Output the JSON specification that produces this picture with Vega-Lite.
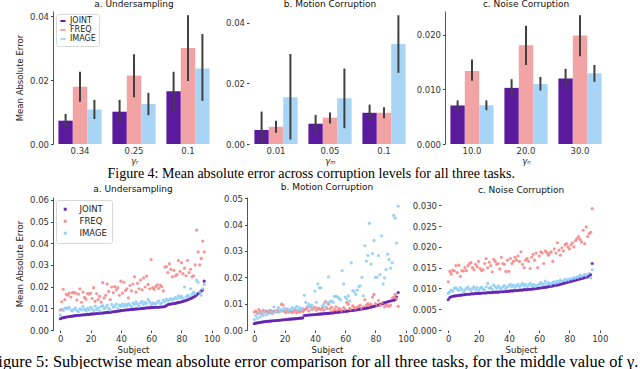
{
  "$schema": "https://vega.github.io/schema/vega-lite/v6.json",
  "padding": {"left": -11, "top": 0, "right": 0, "bottom": 0},
  "background": "white",
  "spacing": 2,
  "config": {
    "view": {"stroke": null},
    "font": "DejaVu Sans",
    "title": {"fontSize": 9, "fontWeight": "normal", "font": "DejaVu Sans", "color": "#111", "offset": 2},
    "axis": {"labelFont": "DejaVu Sans", "labelFontSize": 8.5, "labelColor": "#333", "titleFont": "DejaVu Sans", "titleFontSize": 8.5, "titleFontWeight": "normal", "titleColor": "#222", "tickColor": "#444", "tickSize": 2.5, "labelPadding": 2, "domainColor": "#555", "grid": false},
    "legend": {"labelFont": "DejaVu Sans", "labelColor": "#222"}
  },
  "resolve": {"scale": {"color": "independent"}, "legend": {"color": "independent"}},
  "datasets": {
    "bars": [
      {"t":"a","g":"0.34","m":"JOINT","v":0.0073,"lo":0.0052,"hi":0.0094},
      {"t":"a","g":"0.34","m":"FREQ","v":0.0179,"lo":0.0132,"hi":0.0226},
      {"t":"a","g":"0.34","m":"IMAGE","v":0.0108,"lo":0.0078,"hi":0.0138},
      {"t":"a","g":"0.25","m":"JOINT","v":0.0101,"lo":0.0067,"hi":0.0138},
      {"t":"a","g":"0.25","m":"FREQ","v":0.0214,"lo":0.0146,"hi":0.0281},
      {"t":"a","g":"0.25","m":"IMAGE","v":0.0125,"lo":0.009,"hi":0.016},
      {"t":"a","g":"0.1","m":"JOINT","v":0.0165,"lo":0.0101,"hi":0.0226},
      {"t":"a","g":"0.1","m":"FREQ","v":0.030,"lo":0.0197,"hi":0.0403},
      {"t":"a","g":"0.1","m":"IMAGE","v":0.0236,"lo":0.0135,"hi":0.0344},
      {"t":"b","g":"0.01","m":"JOINT","v":0.0046,"lo":0.0,"hi":0.0107},
      {"t":"b","g":"0.01","m":"FREQ","v":0.0057,"lo":0.0037,"hi":0.0077},
      {"t":"b","g":"0.01","m":"IMAGE","v":0.0154,"lo":0.0015,"hi":0.0297},
      {"t":"b","g":"0.05","m":"JOINT","v":0.0067,"lo":0.0037,"hi":0.0096},
      {"t":"b","g":"0.05","m":"FREQ","v":0.0087,"lo":0.0068,"hi":0.0104},
      {"t":"b","g":"0.05","m":"IMAGE","v":0.0151,"lo":0.0052,"hi":0.0249},
      {"t":"b","g":"0.1","m":"JOINT","v":0.0103,"lo":0.0079,"hi":0.013},
      {"t":"b","g":"0.1","m":"FREQ","v":0.0103,"lo":0.0085,"hi":0.0121},
      {"t":"b","g":"0.1","m":"IMAGE","v":0.033,"lo":0.0235,"hi":0.0425},
      {"t":"c","g":"10.0","m":"JOINT","v":0.00707,"lo":0.0061,"hi":0.008},
      {"t":"c","g":"10.0","m":"FREQ","v":0.0134,"lo":0.0116,"hi":0.0155},
      {"t":"c","g":"10.0","m":"IMAGE","v":0.0071,"lo":0.0062,"hi":0.008},
      {"t":"c","g":"20.0","m":"JOINT","v":0.0103,"lo":0.0087,"hi":0.0119},
      {"t":"c","g":"20.0","m":"FREQ","v":0.0181,"lo":0.0145,"hi":0.0217},
      {"t":"c","g":"20.0","m":"IMAGE","v":0.011,"lo":0.0098,"hi":0.0123},
      {"t":"c","g":"30.0","m":"JOINT","v":0.012,"lo":0.0102,"hi":0.0138},
      {"t":"c","g":"30.0","m":"FREQ","v":0.0199,"lo":0.0161,"hi":0.0236},
      {"t":"c","g":"30.0","m":"IMAGE","v":0.013,"lo":0.0114,"hi":0.0145}
    ],
    "sa": [
      {"s":0,"JOINT":0.0052,"FREQ":0.0092,"IMAGE":0.0070},{"s":1,"JOINT":0.0055,"FREQ":0.0130,"IMAGE":0.0095},{"s":2,"JOINT":0.0057,"FREQ":0.0188,"IMAGE":0.0090},{"s":3,"JOINT":0.0058,"FREQ":0.0140,"IMAGE":0.0100},{"s":4,"JOINT":0.0060,"FREQ":0.0165,"IMAGE":0.0102},{"s":5,"JOINT":0.0061,"FREQ":0.0160,"IMAGE":0.0098},{"s":6,"JOINT":0.0062,"FREQ":0.0170,"IMAGE":0.0105},{"s":7,"JOINT":0.0063,"FREQ":0.0152,"IMAGE":0.0092},{"s":8,"JOINT":0.0064,"FREQ":0.0172,"IMAGE":0.0088},{"s":9,"JOINT":0.0065,"FREQ":0.0172,"IMAGE":0.0095},
      {"s":10,"JOINT":0.0066,"FREQ":0.0170,"IMAGE":0.0102},{"s":11,"JOINT":0.0067,"FREQ":0.0138,"IMAGE":0.0090},{"s":12,"JOINT":0.0068,"FREQ":0.0165,"IMAGE":0.0085},{"s":13,"JOINT":0.0068,"FREQ":0.0190,"IMAGE":0.0098},{"s":14,"JOINT":0.0069,"FREQ":0.0128,"IMAGE":0.0093},{"s":15,"JOINT":0.0070,"FREQ":0.0175,"IMAGE":0.0108},{"s":16,"JOINT":0.0070,"FREQ":0.0150,"IMAGE":0.0095},{"s":17,"JOINT":0.0071,"FREQ":0.0142,"IMAGE":0.0088},{"s":18,"JOINT":0.0072,"FREQ":0.0168,"IMAGE":0.0100},{"s":19,"JOINT":0.0072,"FREQ":0.0165,"IMAGE":0.0092},
      {"s":20,"JOINT":0.0073,"FREQ":0.0170,"IMAGE":0.0105},{"s":21,"JOINT":0.0074,"FREQ":0.0145,"IMAGE":0.0098},{"s":22,"JOINT":0.0074,"FREQ":0.0195,"IMAGE":0.0090},{"s":23,"JOINT":0.0075,"FREQ":0.0132,"IMAGE":0.0110},{"s":24,"JOINT":0.0076,"FREQ":0.0168,"IMAGE":0.0095},{"s":25,"JOINT":0.0076,"FREQ":0.0140,"IMAGE":0.0102},{"s":26,"JOINT":0.0077,"FREQ":0.0155,"IMAGE":0.0088},{"s":27,"JOINT":0.0078,"FREQ":0.0128,"IMAGE":0.0108},{"s":28,"JOINT":0.0078,"FREQ":0.0218,"IMAGE":0.0112},{"s":29,"JOINT":0.0079,"FREQ":0.0148,"IMAGE":0.0098},
      {"s":30,"JOINT":0.0080,"FREQ":0.0160,"IMAGE":0.0105},{"s":31,"JOINT":0.0081,"FREQ":0.0212,"IMAGE":0.0115},{"s":32,"JOINT":0.0081,"FREQ":0.0178,"IMAGE":0.0100},{"s":33,"JOINT":0.0082,"FREQ":0.0140,"IMAGE":0.0092},{"s":34,"JOINT":0.0083,"FREQ":0.0198,"IMAGE":0.0118},{"s":35,"JOINT":0.0084,"FREQ":0.0172,"IMAGE":0.0105},{"s":36,"JOINT":0.0085,"FREQ":0.0200,"IMAGE":0.0110},{"s":37,"JOINT":0.0086,"FREQ":0.0185,"IMAGE":0.0120},{"s":38,"JOINT":0.0087,"FREQ":0.0195,"IMAGE":0.0100},{"s":39,"JOINT":0.0088,"FREQ":0.0160,"IMAGE":0.0115},
      {"s":40,"JOINT":0.0089,"FREQ":0.0225,"IMAGE":0.0110},{"s":41,"JOINT":0.0090,"FREQ":0.0170,"IMAGE":0.0120},{"s":42,"JOINT":0.0091,"FREQ":0.0220,"IMAGE":0.0108},{"s":43,"JOINT":0.0092,"FREQ":0.0182,"IMAGE":0.0118},{"s":44,"JOINT":0.0093,"FREQ":0.0190,"IMAGE":0.0112},{"s":45,"JOINT":0.0093,"FREQ":0.0148,"IMAGE":0.0122},{"s":46,"JOINT":0.0094,"FREQ":0.0205,"IMAGE":0.0115},{"s":47,"JOINT":0.0095,"FREQ":0.0180,"IMAGE":0.0108},{"s":48,"JOINT":0.0095,"FREQ":0.0212,"IMAGE":0.0125},{"s":49,"JOINT":0.0096,"FREQ":0.0245,"IMAGE":0.0118},
      {"s":50,"JOINT":0.0097,"FREQ":0.0175,"IMAGE":0.0130},{"s":51,"JOINT":0.0097,"FREQ":0.0215,"IMAGE":0.0120},{"s":52,"JOINT":0.0098,"FREQ":0.0190,"IMAGE":0.0110},{"s":53,"JOINT":0.0099,"FREQ":0.0230,"IMAGE":0.0125},{"s":54,"JOINT":0.0100,"FREQ":0.0185,"IMAGE":0.0132},{"s":55,"JOINT":0.0100,"FREQ":0.0240,"IMAGE":0.0118},{"s":56,"JOINT":0.0101,"FREQ":0.0198,"IMAGE":0.0128},{"s":57,"JOINT":0.0102,"FREQ":0.0248,"IMAGE":0.0122},{"s":58,"JOINT":0.0102,"FREQ":0.0210,"IMAGE":0.0140},{"s":59,"JOINT":0.0103,"FREQ":0.0190,"IMAGE":0.0130},
      {"s":60,"JOINT":0.0103,"FREQ":0.0325,"IMAGE":0.0118},{"s":61,"JOINT":0.0104,"FREQ":0.0195,"IMAGE":0.0125},{"s":62,"JOINT":0.0104,"FREQ":0.0188,"IMAGE":0.0122},{"s":63,"JOINT":0.0105,"FREQ":0.0200,"IMAGE":0.0120},{"s":64,"JOINT":0.0105,"FREQ":0.0208,"IMAGE":0.0128},{"s":65,"JOINT":0.0105,"FREQ":0.0192,"IMAGE":0.0135},{"s":66,"JOINT":0.0106,"FREQ":0.0206,"IMAGE":0.0122},{"s":67,"JOINT":0.0106,"FREQ":0.0200,"IMAGE":0.0125},{"s":68,"JOINT":0.0107,"FREQ":0.0180,"IMAGE":0.0138},{"s":69,"JOINT":0.0108,"FREQ":0.0290,"IMAGE":0.0130},
      {"s":70,"JOINT":0.0112,"FREQ":0.0292,"IMAGE":0.0142},{"s":71,"JOINT":0.0117,"FREQ":0.0265,"IMAGE":0.0135},{"s":72,"JOINT":0.0119,"FREQ":0.0305,"IMAGE":0.0140},{"s":73,"JOINT":0.0120,"FREQ":0.0280,"IMAGE":0.0145},{"s":74,"JOINT":0.0121,"FREQ":0.0245,"IMAGE":0.0138},{"s":75,"JOINT":0.0122,"FREQ":0.0275,"IMAGE":0.0142},{"s":76,"JOINT":0.0123,"FREQ":0.0250,"IMAGE":0.0150},{"s":77,"JOINT":0.0125,"FREQ":0.0255,"IMAGE":0.0145},{"s":78,"JOINT":0.0127,"FREQ":0.0320,"IMAGE":0.0158},{"s":79,"JOINT":0.0128,"FREQ":0.0270,"IMAGE":0.0148},
      {"s":80,"JOINT":0.0130,"FREQ":0.0310,"IMAGE":0.0155},{"s":81,"JOINT":0.0132,"FREQ":0.0260,"IMAGE":0.0145},{"s":82,"JOINT":0.0134,"FREQ":0.0285,"IMAGE":0.0198},{"s":83,"JOINT":0.0136,"FREQ":0.0250,"IMAGE":0.0152},{"s":84,"JOINT":0.0139,"FREQ":0.0320,"IMAGE":0.0160},{"s":85,"JOINT":0.0142,"FREQ":0.0265,"IMAGE":0.0155},{"s":86,"JOINT":0.0145,"FREQ":0.0280,"IMAGE":0.0190},{"s":87,"JOINT":0.0148,"FREQ":0.0245,"IMAGE":0.0165},{"s":88,"JOINT":0.0152,"FREQ":0.0250,"IMAGE":0.0175},{"s":89,"JOINT":0.0156,"FREQ":0.0300,"IMAGE":0.0168},
      {"s":90,"JOINT":0.0162,"FREQ":0.0460,"IMAGE":0.0230},{"s":91,"JOINT":0.0168,"FREQ":0.0360,"IMAGE":0.0220},{"s":92,"JOINT":0.0174,"FREQ":0.0300,"IMAGE":0.0175},{"s":93,"JOINT":0.0180,"FREQ":0.0330,"IMAGE":0.0160},{"s":94,"JOINT":0.0185,"FREQ":0.0410,"IMAGE":0.0190},{"s":95,"JOINT":0.0225,"FREQ":0.0360,"IMAGE":0.0210}
    ],
    "sb": [
      {"s":0,"JOINT":0.0024,"FREQ":0.0068,"IMAGE":0.0040},{"s":1,"JOINT":0.0026,"FREQ":0.0072,"IMAGE":0.0055},{"s":2,"JOINT":0.0027,"FREQ":0.0065,"IMAGE":0.0045},{"s":3,"JOINT":0.0028,"FREQ":0.0078,"IMAGE":0.0062},{"s":4,"JOINT":0.0029,"FREQ":0.0070,"IMAGE":0.0050},{"s":5,"JOINT":0.0030,"FREQ":0.0062,"IMAGE":0.0068},{"s":6,"JOINT":0.0031,"FREQ":0.0075,"IMAGE":0.0055},{"s":7,"JOINT":0.0032,"FREQ":0.0068,"IMAGE":0.0072},{"s":8,"JOINT":0.0033,"FREQ":0.0072,"IMAGE":0.0058},{"s":9,"JOINT":0.0033,"FREQ":0.0070,"IMAGE":0.0062},
      {"s":10,"JOINT":0.0034,"FREQ":0.0066,"IMAGE":0.0075},{"s":11,"JOINT":0.0034,"FREQ":0.0074,"IMAGE":0.0065},{"s":12,"JOINT":0.0035,"FREQ":0.0064,"IMAGE":0.0070},{"s":13,"JOINT":0.0035,"FREQ":0.0072,"IMAGE":0.0088},{"s":14,"JOINT":0.0036,"FREQ":0.0070,"IMAGE":0.0068},{"s":15,"JOINT":0.0036,"FREQ":0.0076,"IMAGE":0.0075},{"s":16,"JOINT":0.0037,"FREQ":0.0068,"IMAGE":0.0085},{"s":17,"JOINT":0.0037,"FREQ":0.0073,"IMAGE":0.0070},{"s":18,"JOINT":0.0038,"FREQ":0.0098,"IMAGE":0.0078},{"s":19,"JOINT":0.0039,"FREQ":0.0095,"IMAGE":0.0072},
      {"s":20,"JOINT":0.0039,"FREQ":0.0070,"IMAGE":0.0082},{"s":21,"JOINT":0.0040,"FREQ":0.0066,"IMAGE":0.0075},{"s":22,"JOINT":0.0040,"FREQ":0.0074,"IMAGE":0.0080},{"s":23,"JOINT":0.0041,"FREQ":0.0068,"IMAGE":0.0072},{"s":24,"JOINT":0.0041,"FREQ":0.0072,"IMAGE":0.0078},{"s":25,"JOINT":0.0042,"FREQ":0.0066,"IMAGE":0.0085},{"s":26,"JOINT":0.0042,"FREQ":0.0070,"IMAGE":0.0075},{"s":27,"JOINT":0.0043,"FREQ":0.0075,"IMAGE":0.0082},{"s":28,"JOINT":0.0043,"FREQ":0.0065,"IMAGE":0.0090},{"s":29,"JOINT":0.0044,"FREQ":0.0072,"IMAGE":0.0078},
      {"s":30,"JOINT":0.0045,"FREQ":0.0068,"IMAGE":0.0085},{"s":31,"JOINT":0.0045,"FREQ":0.0074,"IMAGE":0.0078},{"s":32,"JOINT":0.0046,"FREQ":0.0070,"IMAGE":0.0082},{"s":33,"JOINT":0.0055,"FREQ":0.0076,"IMAGE":0.0132},{"s":34,"JOINT":0.0056,"FREQ":0.0080,"IMAGE":0.0105},{"s":35,"JOINT":0.0056,"FREQ":0.0084,"IMAGE":0.0090},{"s":36,"JOINT":0.0057,"FREQ":0.0072,"IMAGE":0.0098},{"s":37,"JOINT":0.0057,"FREQ":0.0088,"IMAGE":0.0088},{"s":38,"JOINT":0.0058,"FREQ":0.0078,"IMAGE":0.0095},{"s":39,"JOINT":0.0058,"FREQ":0.0082,"IMAGE":0.0085},
      {"s":40,"JOINT":0.0059,"FREQ":0.0086,"IMAGE":0.0148},{"s":41,"JOINT":0.0059,"FREQ":0.0075,"IMAGE":0.0105},{"s":42,"JOINT":0.0060,"FREQ":0.0083,"IMAGE":0.0175},{"s":43,"JOINT":0.0060,"FREQ":0.0080,"IMAGE":0.0160},{"s":44,"JOINT":0.0061,"FREQ":0.0078,"IMAGE":0.0160},{"s":45,"JOINT":0.0061,"FREQ":0.0085,"IMAGE":0.0092},{"s":46,"JOINT":0.0062,"FREQ":0.0076,"IMAGE":0.0100},{"s":47,"JOINT":0.0062,"FREQ":0.0108,"IMAGE":0.0088},{"s":48,"JOINT":0.0063,"FREQ":0.0082,"IMAGE":0.0105},{"s":49,"JOINT":0.0063,"FREQ":0.0098,"IMAGE":0.0202},
      {"s":50,"JOINT":0.0064,"FREQ":0.0080,"IMAGE":0.0108},{"s":51,"JOINT":0.0065,"FREQ":0.0086,"IMAGE":0.0110},{"s":52,"JOINT":0.0065,"FREQ":0.0072,"IMAGE":0.0105},{"s":53,"JOINT":0.0066,"FREQ":0.0078,"IMAGE":0.0128},{"s":54,"JOINT":0.0067,"FREQ":0.0088,"IMAGE":0.0128},{"s":55,"JOINT":0.0067,"FREQ":0.0075,"IMAGE":0.0125},{"s":56,"JOINT":0.0068,"FREQ":0.0082,"IMAGE":0.0120},{"s":57,"JOINT":0.0069,"FREQ":0.0078,"IMAGE":0.0115},{"s":58,"JOINT":0.0069,"FREQ":0.0072,"IMAGE":0.0225},{"s":59,"JOINT":0.0070,"FREQ":0.0085,"IMAGE":0.0175},
      {"s":60,"JOINT":0.0071,"FREQ":0.0078,"IMAGE":0.0125},{"s":61,"JOINT":0.0071,"FREQ":0.0105,"IMAGE":0.0118},{"s":62,"JOINT":0.0072,"FREQ":0.0098,"IMAGE":0.0130},{"s":63,"JOINT":0.0073,"FREQ":0.0082,"IMAGE":0.0110},{"s":64,"JOINT":0.0074,"FREQ":0.0078,"IMAGE":0.0255},{"s":65,"JOINT":0.0074,"FREQ":0.0092,"IMAGE":0.0150},{"s":66,"JOINT":0.0075,"FREQ":0.0085,"IMAGE":0.0145},{"s":67,"JOINT":0.0076,"FREQ":0.0080,"IMAGE":0.0135},{"s":68,"JOINT":0.0077,"FREQ":0.0086,"IMAGE":0.0152},{"s":69,"JOINT":0.0078,"FREQ":0.0090,"IMAGE":0.0165},
      {"s":70,"JOINT":0.0079,"FREQ":0.0095,"IMAGE":0.0168},{"s":71,"JOINT":0.0080,"FREQ":0.0082,"IMAGE":0.0200},{"s":72,"JOINT":0.0081,"FREQ":0.0088,"IMAGE":0.0130},{"s":73,"JOINT":0.0082,"FREQ":0.0115,"IMAGE":0.0320},{"s":74,"JOINT":0.0083,"FREQ":0.0095,"IMAGE":0.0262},{"s":75,"JOINT":0.0084,"FREQ":0.0100,"IMAGE":0.0283},{"s":76,"JOINT":0.0086,"FREQ":0.0092,"IMAGE":0.0405},{"s":77,"JOINT":0.0087,"FREQ":0.0098,"IMAGE":0.0250},{"s":78,"JOINT":0.0088,"FREQ":0.0125,"IMAGE":0.0290},{"s":79,"JOINT":0.0090,"FREQ":0.0135,"IMAGE":0.0340},
      {"s":80,"JOINT":0.0091,"FREQ":0.0100,"IMAGE":0.0200},{"s":81,"JOINT":0.0093,"FREQ":0.0095,"IMAGE":0.0200},{"s":82,"JOINT":0.0095,"FREQ":0.0112,"IMAGE":0.0283},{"s":83,"JOINT":0.0097,"FREQ":0.0092,"IMAGE":0.0210},{"s":84,"JOINT":0.0099,"FREQ":0.0098,"IMAGE":0.0358},{"s":85,"JOINT":0.0101,"FREQ":0.0105,"IMAGE":0.0175},{"s":86,"JOINT":0.0103,"FREQ":0.0088,"IMAGE":0.0198},{"s":87,"JOINT":0.0105,"FREQ":0.0095,"IMAGE":0.0230},{"s":88,"JOINT":0.0107,"FREQ":0.0092,"IMAGE":0.0288},{"s":89,"JOINT":0.0109,"FREQ":0.0090,"IMAGE":0.0268},
      {"s":90,"JOINT":0.0110,"FREQ":0.0095,"IMAGE":0.0235},{"s":91,"JOINT":0.0112,"FREQ":0.0120,"IMAGE":0.0255},{"s":92,"JOINT":0.0113,"FREQ":0.0125,"IMAGE":0.0435},{"s":93,"JOINT":0.0115,"FREQ":0.0135,"IMAGE":0.0425},{"s":94,"JOINT":0.0125,"FREQ":0.0120,"IMAGE":0.0330},{"s":95,"JOINT":0.0142,"FREQ":0.0090,"IMAGE":0.0470}
    ],
    "sc": [
      {"s":0,"JOINT":0.0073,"FREQ":0.0116,"IMAGE":0.0088},{"s":1,"JOINT":0.0078,"FREQ":0.0141,"IMAGE":0.0092},{"s":2,"JOINT":0.0080,"FREQ":0.0135,"IMAGE":0.0096},{"s":3,"JOINT":0.0081,"FREQ":0.0144,"IMAGE":0.0093},{"s":4,"JOINT":0.0082,"FREQ":0.0142,"IMAGE":0.0100},{"s":5,"JOINT":0.0082,"FREQ":0.0155,"IMAGE":0.0102},{"s":6,"JOINT":0.0083,"FREQ":0.0138,"IMAGE":0.0098},{"s":7,"JOINT":0.0083,"FREQ":0.0156,"IMAGE":0.0095},{"s":8,"JOINT":0.0084,"FREQ":0.0129,"IMAGE":0.0102},{"s":9,"JOINT":0.0084,"FREQ":0.0143,"IMAGE":0.0097},
      {"s":10,"JOINT":0.0085,"FREQ":0.0142,"IMAGE":0.0090},{"s":11,"JOINT":0.0085,"FREQ":0.0150,"IMAGE":0.0096},{"s":12,"JOINT":0.0086,"FREQ":0.0143,"IMAGE":0.0100},{"s":13,"JOINT":0.0086,"FREQ":0.0155,"IMAGE":0.0103},{"s":14,"JOINT":0.0086,"FREQ":0.0160,"IMAGE":0.0098},{"s":15,"JOINT":0.0087,"FREQ":0.0162,"IMAGE":0.0095},{"s":16,"JOINT":0.0087,"FREQ":0.0150,"IMAGE":0.0100},{"s":17,"JOINT":0.0087,"FREQ":0.0145,"IMAGE":0.0104},{"s":18,"JOINT":0.0088,"FREQ":0.0158,"IMAGE":0.0097},{"s":19,"JOINT":0.0088,"FREQ":0.0152,"IMAGE":0.0102},
      {"s":20,"JOINT":0.0088,"FREQ":0.0165,"IMAGE":0.0095},{"s":21,"JOINT":0.0088,"FREQ":0.0148,"IMAGE":0.0100},{"s":22,"JOINT":0.0089,"FREQ":0.0143,"IMAGE":0.0103},{"s":23,"JOINT":0.0089,"FREQ":0.0145,"IMAGE":0.0098},{"s":24,"JOINT":0.0089,"FREQ":0.0160,"IMAGE":0.0096},{"s":25,"JOINT":0.0089,"FREQ":0.0172,"IMAGE":0.0104},{"s":26,"JOINT":0.0090,"FREQ":0.0150,"IMAGE":0.0112},{"s":27,"JOINT":0.0090,"FREQ":0.0163,"IMAGE":0.0100},{"s":28,"JOINT":0.0090,"FREQ":0.0155,"IMAGE":0.0103},{"s":29,"JOINT":0.0090,"FREQ":0.0140,"IMAGE":0.0098},
      {"s":30,"JOINT":0.0091,"FREQ":0.0170,"IMAGE":0.0108},{"s":31,"JOINT":0.0091,"FREQ":0.0165,"IMAGE":0.0104},{"s":32,"JOINT":0.0091,"FREQ":0.0158,"IMAGE":0.0100},{"s":33,"JOINT":0.0091,"FREQ":0.0160,"IMAGE":0.0106},{"s":34,"JOINT":0.0092,"FREQ":0.0147,"IMAGE":0.0102},{"s":35,"JOINT":0.0092,"FREQ":0.0175,"IMAGE":0.0098},{"s":36,"JOINT":0.0092,"FREQ":0.0160,"IMAGE":0.0104},{"s":37,"JOINT":0.0092,"FREQ":0.0158,"IMAGE":0.0107},{"s":38,"JOINT":0.0093,"FREQ":0.0141,"IMAGE":0.0100},{"s":39,"JOINT":0.0093,"FREQ":0.0168,"IMAGE":0.0103},
      {"s":40,"JOINT":0.0093,"FREQ":0.0141,"IMAGE":0.0106},{"s":41,"JOINT":0.0094,"FREQ":0.0172,"IMAGE":0.0110},{"s":42,"JOINT":0.0094,"FREQ":0.0160,"IMAGE":0.0104},{"s":43,"JOINT":0.0094,"FREQ":0.0165,"IMAGE":0.0108},{"s":44,"JOINT":0.0095,"FREQ":0.0175,"IMAGE":0.0102},{"s":45,"JOINT":0.0095,"FREQ":0.0168,"IMAGE":0.0106},{"s":46,"JOINT":0.0095,"FREQ":0.0178,"IMAGE":0.0110},{"s":47,"JOINT":0.0096,"FREQ":0.0165,"IMAGE":0.0104},{"s":48,"JOINT":0.0096,"FREQ":0.0188,"IMAGE":0.0108},{"s":49,"JOINT":0.0096,"FREQ":0.0158,"IMAGE":0.0112},
      {"s":50,"JOINT":0.0097,"FREQ":0.0150,"IMAGE":0.0106},{"s":51,"JOINT":0.0097,"FREQ":0.0168,"IMAGE":0.0110},{"s":52,"JOINT":0.0097,"FREQ":0.0172,"IMAGE":0.0104},{"s":53,"JOINT":0.0098,"FREQ":0.0165,"IMAGE":0.0108},{"s":54,"JOINT":0.0098,"FREQ":0.0148,"IMAGE":0.0112},{"s":55,"JOINT":0.0098,"FREQ":0.0175,"IMAGE":0.0106},{"s":56,"JOINT":0.0099,"FREQ":0.0182,"IMAGE":0.0110},{"s":57,"JOINT":0.0099,"FREQ":0.0168,"IMAGE":0.0108},{"s":58,"JOINT":0.0100,"FREQ":0.0185,"IMAGE":0.0104},{"s":59,"JOINT":0.0100,"FREQ":0.0150,"IMAGE":0.0108},
      {"s":60,"JOINT":0.0101,"FREQ":0.0178,"IMAGE":0.0110},{"s":61,"JOINT":0.0101,"FREQ":0.0188,"IMAGE":0.0114},{"s":62,"JOINT":0.0102,"FREQ":0.0185,"IMAGE":0.0108},{"s":63,"JOINT":0.0102,"FREQ":0.0160,"IMAGE":0.0112},{"s":64,"JOINT":0.0103,"FREQ":0.0190,"IMAGE":0.0118},{"s":65,"JOINT":0.0103,"FREQ":0.0186,"IMAGE":0.0110},{"s":66,"JOINT":0.0104,"FREQ":0.0180,"IMAGE":0.0114},{"s":67,"JOINT":0.0105,"FREQ":0.0185,"IMAGE":0.0112},{"s":68,"JOINT":0.0105,"FREQ":0.0188,"IMAGE":0.0108},{"s":69,"JOINT":0.0106,"FREQ":0.0165,"IMAGE":0.0114},
      {"s":70,"JOINT":0.0107,"FREQ":0.0195,"IMAGE":0.0116},{"s":71,"JOINT":0.0108,"FREQ":0.0185,"IMAGE":0.0112},{"s":72,"JOINT":0.0108,"FREQ":0.0210,"IMAGE":0.0118},{"s":73,"JOINT":0.0109,"FREQ":0.0192,"IMAGE":0.0114},{"s":74,"JOINT":0.0110,"FREQ":0.0180,"IMAGE":0.0120},{"s":75,"JOINT":0.0111,"FREQ":0.0198,"IMAGE":0.0116},{"s":76,"JOINT":0.0112,"FREQ":0.0190,"IMAGE":0.0118},{"s":77,"JOINT":0.0113,"FREQ":0.0205,"IMAGE":0.0122},{"s":78,"JOINT":0.0114,"FREQ":0.0208,"IMAGE":0.0118},{"s":79,"JOINT":0.0115,"FREQ":0.0200,"IMAGE":0.0122},
      {"s":80,"JOINT":0.0116,"FREQ":0.0195,"IMAGE":0.0120},{"s":81,"JOINT":0.0117,"FREQ":0.0205,"IMAGE":0.0124},{"s":82,"JOINT":0.0118,"FREQ":0.0210,"IMAGE":0.0122},{"s":83,"JOINT":0.0119,"FREQ":0.0200,"IMAGE":0.0126},{"s":84,"JOINT":0.0120,"FREQ":0.0215,"IMAGE":0.0124},{"s":85,"JOINT":0.0121,"FREQ":0.0220,"IMAGE":0.0128},{"s":86,"JOINT":0.0122,"FREQ":0.0225,"IMAGE":0.0126},{"s":87,"JOINT":0.0123,"FREQ":0.0218,"IMAGE":0.0132},{"s":88,"JOINT":0.0124,"FREQ":0.0212,"IMAGE":0.0128},{"s":89,"JOINT":0.0125,"FREQ":0.0240,"IMAGE":0.0130},
      {"s":90,"JOINT":0.0126,"FREQ":0.0208,"IMAGE":0.0134},{"s":91,"JOINT":0.0127,"FREQ":0.0248,"IMAGE":0.0130},{"s":92,"JOINT":0.0128,"FREQ":0.0225,"IMAGE":0.0133},{"s":93,"JOINT":0.0130,"FREQ":0.0232,"IMAGE":0.0136},{"s":94,"JOINT":0.0133,"FREQ":0.0235,"IMAGE":0.0126},{"s":95,"JOINT":0.0160,"FREQ":0.0292,"IMAGE":0.0145}
    ]
  },
  "vconcat": [
    {
      "bounds": "flush",
      "spacing": 34,
      "resolve": {"scale": {"color": "independent"}, "legend": {"color": "independent"}},
      "title": {"text": "Figure 4: Mean absolute error across corruption levels for all three tasks.", "orient": "bottom", "anchor": "middle", "font": "Liberation Serif", "fontSize": 14, "fontWeight": "normal", "color": "#000", "offset": 2},
      "hconcat": [
        {
          "width": 162, "height": 133,
          "title": {"text": "a. Undersampling"},
          "data": {"name": "bars"},
          "transform": [{"filter": "datum.t == 'a'"}],
          "encoding": {
            "x": {"field": "g", "type": "nominal", "sort": ["0.34", "0.25", "0.1"], "scale": {"paddingInner": 0.2, "paddingOuter": 0.1}, "axis": {"title": "γᵣ", "titleFontStyle": "italic", "labelAngle": 0, "ticks": false, "domain": false, "titlePadding": 2}},
            "xOffset": {"field": "m", "type": "nominal", "sort": ["JOINT", "FREQ", "IMAGE"], "scale": {"paddingInner": 0, "paddingOuter": 0}}
          },
          "layer": [
            {"mark": {"type": "bar"}, "encoding": {
              "y": {"field": "v", "type": "quantitative", "scale": {"domain": [0, 0.0416], "nice": false}, "axis": {"title": "Mean Absolute Error", "values": [0, 0.01, 0.02, 0.03, 0.04], "format": ".2f", "titlePadding": 5}},
              "color": {"field": "m", "type": "nominal", "scale": {"domain": ["JOINT", "FREQ", "IMAGE"], "range": ["#5b1a9e", "#f2a3a3", "#a8d5f5"]},
                "legend": {"title": null, "orient": "top-left", "offset": 3, "padding": 3, "fillColor": "white", "strokeColor": "#d8d8d8", "cornerRadius": 2, "labelFontSize": 8, "rowPadding": 1, "symbolType": "M-1,-0.4H1V0.4H-1Z", "symbolSize": 25, "symbolStrokeWidth": 0, "labelOffset": 3}}
            }},
            {"mark": {"type": "rule", "color": "#404040", "strokeWidth": 2}, "encoding": {"y": {"field": "lo", "type": "quantitative"}, "y2": {"field": "hi"}}}
          ]
        },
        {
          "width": 162, "height": 133,
          "title": {"text": "b. Motion Corruption"},
          "data": {"name": "bars"},
          "transform": [{"filter": "datum.t == 'b'"}],
          "encoding": {
            "x": {"field": "g", "type": "nominal", "sort": ["0.01", "0.05", "0.1"], "scale": {"paddingInner": 0.2, "paddingOuter": 0.1}, "axis": {"title": "γₘ", "titleFontStyle": "italic", "labelAngle": 0, "ticks": false, "domain": false, "titlePadding": 2}},
            "xOffset": {"field": "m", "type": "nominal", "sort": ["JOINT", "FREQ", "IMAGE"], "scale": {"paddingInner": 0, "paddingOuter": 0}}
          },
          "layer": [
            {"mark": {"type": "bar"}, "encoding": {
              "y": {"field": "v", "type": "quantitative", "scale": {"domain": [0, 0.0439], "nice": false}, "axis": {"title": null, "values": [0, 0.01, 0.02, 0.03, 0.04], "format": ".2f", "domain": false}},
              "color": {"field": "m", "type": "nominal", "scale": {"domain": ["JOINT", "FREQ", "IMAGE"], "range": ["#5b1a9e", "#f2a3a3", "#a8d5f5"]}, "legend": null}
            }},
            {"mark": {"type": "rule", "color": "#404040", "strokeWidth": 2}, "encoding": {"y": {"field": "lo", "type": "quantitative"}, "y2": {"field": "hi"}}}
          ]
        },
        {
          "width": 162, "height": 133,
          "title": {"text": "c. Noise Corruption"},
          "data": {"name": "bars"},
          "transform": [{"filter": "datum.t == 'c'"}],
          "encoding": {
            "x": {"field": "g", "type": "nominal", "sort": ["10.0", "20.0", "30.0"], "scale": {"paddingInner": 0.2, "paddingOuter": 0.1}, "axis": {"title": "γₙ", "titleFontStyle": "italic", "labelAngle": 0, "ticks": false, "domain": false, "titlePadding": 2}},
            "xOffset": {"field": "m", "type": "nominal", "sort": ["JOINT", "FREQ", "IMAGE"], "scale": {"paddingInner": 0, "paddingOuter": 0}}
          },
          "layer": [
            {"mark": {"type": "bar"}, "encoding": {
              "y": {"field": "v", "type": "quantitative", "scale": {"domain": [0, 0.0244], "nice": false}, "axis": {"title": null, "values": [0, 0.005, 0.01, 0.015, 0.02], "format": ".3f"}},
              "color": {"field": "m", "type": "nominal", "scale": {"domain": ["JOINT", "FREQ", "IMAGE"], "range": ["#5b1a9e", "#f2a3a3", "#a8d5f5"]}, "legend": null}
            }},
            {"mark": {"type": "rule", "color": "#404040", "strokeWidth": 2}, "encoding": {"y": {"field": "lo", "type": "quantitative"}, "y2": {"field": "hi"}}}
          ]
        }
      ]
    },
    {
      "bounds": "flush",
      "spacing": 34,
      "resolve": {"scale": {"color": "independent"}, "legend": {"color": "independent"}},
      "title": {"text": "Figure 5: Subjectwise mean absolute error comparison for all three tasks, for the middle value of γ.", "orient": "bottom", "anchor": "middle", "font": "Liberation Serif", "fontSize": 16.4, "fontWeight": "normal", "color": "#000", "offset": 0, "dx": 2},
      "hconcat": [
        {
          "width": 160, "height": 133,
          "title": {"text": "a. Undersampling"},
          "data": {"name": "sa"},
          "transform": [{"fold": ["JOINT", "FREQ", "IMAGE"], "as": ["m", "v"]}],
          "mark": {"type": "circle", "size": 10, "opacity": 0.9},
          "encoding": {
            "x": {"field": "s", "type": "quantitative", "scale": {"domain": [-4.8, 100.8], "nice": false, "zero": false}, "axis": {"title": "Subject", "values": [0, 20, 40, 60, 80, 100], "domain": false, "titlePadding": 2}},
            "y": {"field": "v", "type": "quantitative", "scale": {"domain": [0, 0.0613], "nice": false}, "axis": {"title": "Mean Absolute Error", "values": [0, 0.01, 0.02, 0.03, 0.04, 0.05, 0.06], "format": ".2f", "titlePadding": 5}},
            "color": {"field": "m", "type": "nominal", "scale": {"domain": ["JOINT", "FREQ", "IMAGE"], "range": ["#6220b0", "#f58a8a", "#8fcdf5"]},
              "legend": {"title": null, "orient": "top-left", "offset": 3, "padding": 5, "fillColor": "white", "strokeColor": "#d8d8d8", "cornerRadius": 2, "labelFontSize": 8.5, "rowPadding": 3, "symbolType": "circle", "symbolSize": 12, "symbolStrokeWidth": 0, "labelOffset": 10}},
            "order": {"field": "m", "sort": "descending"}
          }
        },
        {
          "width": 160, "height": 133,
          "title": {"text": "b. Motion Corruption"},
          "data": {"name": "sb"},
          "transform": [{"fold": ["JOINT", "FREQ", "IMAGE"], "as": ["m", "v"]}],
          "mark": {"type": "circle", "size": 10, "opacity": 0.9},
          "encoding": {
            "x": {"field": "s", "type": "quantitative", "scale": {"domain": [-4.8, 100.8], "nice": false, "zero": false}, "axis": {"title": "Subject", "values": [0, 20, 40, 60, 80, 100], "domain": false, "titlePadding": 2}},
            "y": {"field": "v", "type": "quantitative", "scale": {"domain": [0, 0.0505], "nice": false}, "axis": {"title": null, "values": [0, 0.01, 0.02, 0.03, 0.04, 0.05], "format": ".2f"}},
            "color": {"field": "m", "type": "nominal", "scale": {"domain": ["JOINT", "FREQ", "IMAGE"], "range": ["#6220b0", "#f58a8a", "#8fcdf5"]}, "legend": null}
          }
        },
        {
          "width": 160, "height": 133,
          "title": {"text": "c. Noise Corruption"},
          "data": {"name": "sc"},
          "transform": [{"fold": ["JOINT", "FREQ", "IMAGE"], "as": ["m", "v"]}],
          "mark": {"type": "circle", "size": 10, "opacity": 0.9},
          "encoding": {
            "x": {"field": "s", "type": "quantitative", "scale": {"domain": [-4.8, 100.8], "nice": false, "zero": false}, "axis": {"title": "Subject", "values": [0, 20, 40, 60, 80, 100], "domain": false, "titlePadding": 2}},
            "y": {"field": "v", "type": "quantitative", "scale": {"domain": [0, 0.032], "nice": false}, "axis": {"title": null, "values": [0, 0.005, 0.01, 0.015, 0.02, 0.025, 0.03], "format": ".3f", "domain": false}},
            "color": {"field": "m", "type": "nominal", "scale": {"domain": ["JOINT", "FREQ", "IMAGE"], "range": ["#6220b0", "#f58a8a", "#8fcdf5"]}, "legend": null}
          }
        }
      ]
    }
  ]
}
